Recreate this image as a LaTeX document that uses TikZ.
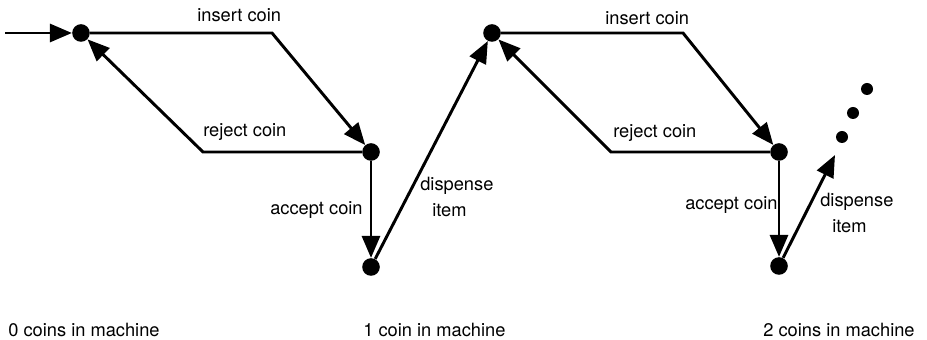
\documentclass[tikz,border=0pt]{standalone}
\usepackage{fontspec}
\setmainfont{TeX Gyre Heros}
\usetikzlibrary{arrows.meta}

\begin{document}
\begin{tikzpicture}[scale=0.25,
  state/.style={circle,fill=black,minimum size=0.44cm},
  more/.style={circle,fill=black,minimum size=0.3cm},
  move/.style={line width=2.1pt,-{Triangle[length=0.55cm,width=0.45cm]}},
  lbl/.style={font=\fontsize{13}{18.5}\selectfont}]
\tikzstyle{every node}+=[inner sep=0pt]
\useasboundingbox (0,0) rectangle (92.7,-34);
\node [state] (a0) at (8.1,-3.3) {};
\node [state] (b0) at (37.1,-15.2) {};
\node [state] (c0) at (37.1,-26.7) {};
\node [state] (a1) at (49.2,-3.3) {};
\node [state] (b1) at (77.9,-15.2) {};
\node [state] (c1) at (77.9,-26.6) {};
\node [more] (m1) at (84.2,-13.7) {};
\node [more] (m2) at (85.3,-11.3) {};
\node [more] (m3) at (86.7,-8.9) {};
\coordinate (start) at (0.5,-3.3);
\coordinate (next) at (83.5,-15.5);
\draw [move] (start) -- (a0);
\draw [move] (a0) -- ++(19.1,0) -- (b0);
\draw [move] (b0) -- ++(-16.8,0) -- (a0);
\draw [move] (b0) -- (c0);
\draw [move] (c0) -- (a1);
\draw [move] (a1) -- ++(19.1,0) -- (b1);
\draw [move] (b1) -- ++(-16.8,0) -- (a1);
\draw [move] (b1) -- (c1);
\draw [move] (c1) -- (next);
\node [lbl,anchor=base west] (ins0) at (19.7,-2.2) {insert coin};
\node [lbl,anchor=base west] (rej0) at (20.3,-13.7) {reject coin};
\node [lbl,anchor=base west] (acc0) at (27.0,-21.5) {accept coin};
\node [lbl,anchor=north west,align=left] (dis0) at (42.0,-17.7) {dispense\\\hspace{0.3cm}item};
\node [lbl,anchor=base west] (ins1) at (60.5,-2.5) {insert coin};
\node [lbl,anchor=base west] (rej1) at (61.3,-13.8) {reject coin};
\node [lbl,anchor=base west] (acc1) at (68.5,-21.0) {accept coin};
\node [lbl,anchor=north west,align=left] (dis1) at (82.0,-19.3) {dispense\\\hspace{0.3cm}item};
\node [lbl,anchor=base west] (n0) at (0.8,-33.7) {0 coins in machine};
\node [lbl,anchor=base west] (n1) at (36.3,-33.7) {1 coin in machine};
\node [lbl,anchor=base west] (n2) at (76.3,-33.7) {2 coins in machine};
\end{tikzpicture}
\end{document}
